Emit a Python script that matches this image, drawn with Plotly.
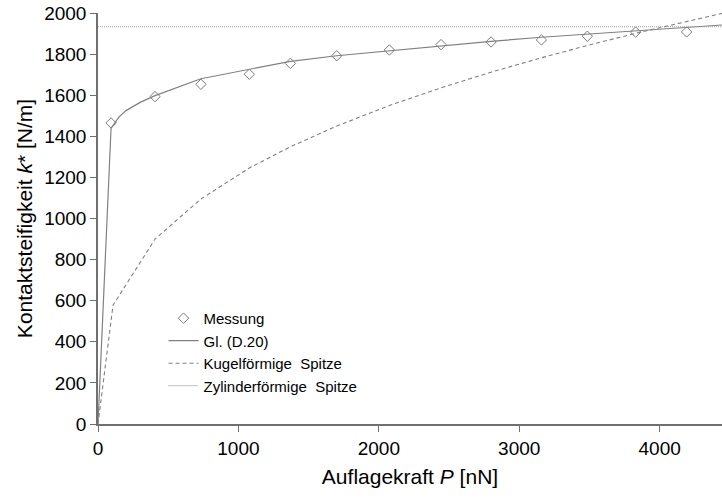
import plotly.graph_objects as go

# Measured data
P_mess = [93, 406, 733, 1078, 1370, 1700, 2075, 2443, 2799, 3158, 3485, 3829, 4192]
k_mess = [1465, 1593, 1653, 1702, 1755, 1792, 1820, 1846, 1859, 1869, 1887, 1907, 1908]

# Gl. (D.20)
P_gl = [0, 93, 150, 200, 300, 406, 733, 1078, 1370, 1700, 2075, 2443, 2799, 3158, 3485, 3829, 4192, 4450]
k_gl = [0, 1440, 1495, 1525, 1565, 1598, 1680, 1728, 1765, 1792, 1817, 1840, 1862, 1882, 1898, 1914, 1930, 1942]

# Kugelförmige Spitze
P_kugel = [0, 107, 406, 733, 1078, 1370, 1700, 2075, 2443, 2799, 3158, 3485, 3829, 4192, 4450]
k_kugel = [0, 578, 900, 1095, 1246, 1349, 1450, 1550, 1636, 1712, 1782, 1842, 1901, 1959, 1999]

# Zylinderförmige Spitze
P_zyl = [0, 4450]
k_zyl = [1933, 1933]

x_ticks = [0, 1000, 2000, 3000, 4000]
y_ticks = [0, 200, 400, 600, 800, 1000, 1200, 1400, 1600, 1800, 2000]

FONT = "Liberation Sans, Arial, sans-serif"

fig = go.Figure()
fig.add_trace(go.Scatter(x=P_mess, y=k_mess, mode="markers", name="Messung",
                         marker=dict(symbol="diamond-open", size=8, color="#7a7a7a",
                                     line=dict(width=1))))
fig.add_trace(go.Scatter(x=P_gl, y=k_gl, mode="lines", name="Gl. (D.20)",
                         line=dict(color="#808080", width=1.2)))
fig.add_trace(go.Scatter(x=P_kugel, y=k_kugel, mode="lines", name="Kugelförmige  Spitze",
                         line=dict(color="#808080", width=1.1, dash="4px,3px")))
fig.add_trace(go.Scatter(x=P_zyl, y=k_zyl, mode="lines", name="Zylinderförmige  Spitze",
                         line=dict(color="#a0a0a0", width=1.2, dash="1px,1px")))

fig.update_layout(
    width=722, height=500,
    margin=dict(l=98, r=0, t=13, b=76),
    paper_bgcolor="white", plot_bgcolor="white",
    font=dict(family=FONT, size=19, color="black"),
    showlegend=True,
    legend=dict(x=0.105, y=0.297, xanchor="left", yanchor="top",
                bgcolor="rgba(0,0,0,0)", font=dict(size=15, family=FONT),
                tracegroupgap=0, itemwidth=30),
    xaxis=dict(range=[0, 4444], tickvals=x_ticks, showgrid=False, zeroline=False,
               showline=True, linecolor="#707070", linewidth=1.5,
               ticks="outside", ticklen=6, tickcolor="#707070",
               tickfont=dict(size=19),
               title=dict(text="Auflagekraft <i>P</i> [nN]", font=dict(size=21), standoff=12)),
    yaxis=dict(range=[0, 2000], tickvals=y_ticks, showgrid=False, zeroline=False,
               showline=True, linecolor="#707070", linewidth=1.5,
               ticks="outside", ticklen=6, tickcolor="#707070",
               tickfont=dict(size=19),
               title=dict(text="Kontaktsteifigkeit <i>k</i>* [N/m]", font=dict(size=21), standoff=6)),
)

fig.write_html("out.html")
